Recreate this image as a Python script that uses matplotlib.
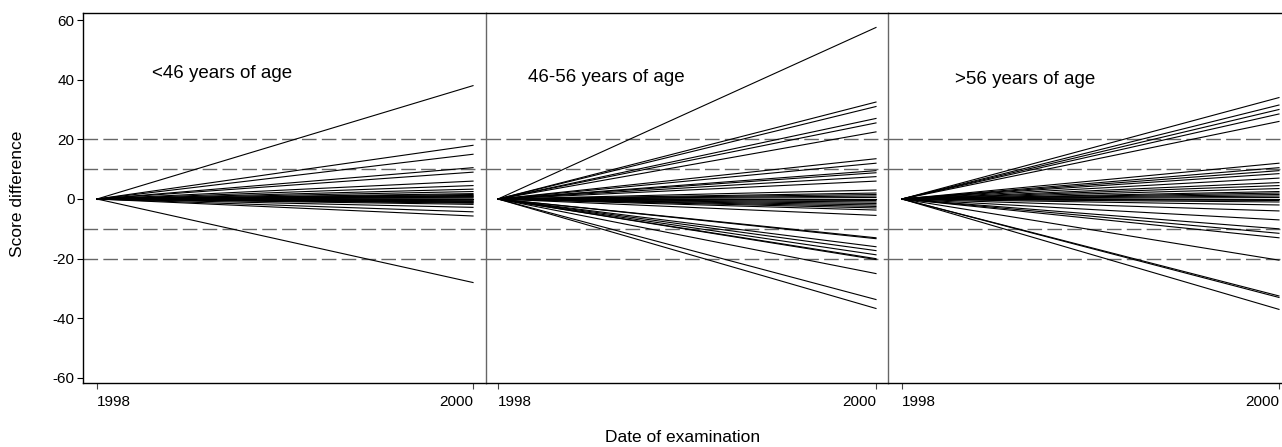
import matplotlib
matplotlib.use("Agg")
import matplotlib.pyplot as plt

plt.rcParams['font.family'] = ['Liberation Sans', 'DejaVu Sans']

# jahre / gruppen
years = [1998, 2000]
groups = ['<46 years of age', '46-56 years of age', '>56 years of age']

# score difference at 2000 (all start at 0 in 1998)
diff_young = [38, 18, 15, 10.5, 9, 6, 4.5, 3.3, 2.5, 1.8, 1.5, 1.2, 1, 0.8, 0.6,
              0.3, 0, -0.3, -0.6, -0.8, -1, -1.2, -1.4, -1.8, -2.8, -4.3, -5.7, -28]
diff_mid = [57.5, 32.5, 31, 27, 25.5, 22.5, 13.5, 12, 9.5, 8.8, 7.5, 6, 3, 2,
            1.5, 1, 0.5, 0, -0.5, -1, -1.5, -2, -2.5, -3, -3.7, -5.5, -13,
            -13.3, -16, -17.3, -18.7, -20, -20.3, -25, -33.7, -36.7]
diff_old = [34, 31.5, 30, 28.5, 26, 12, 10.5, 9.5, 8.5, 7, 5.5, 4.5, 3.5, 2.5,
            2, 1.5, 1, 0.5, 0, -0.5, -1, -2, -4, -7, -10, -11.5, -13, -20.5,
            -32.5, -33, -37]
ref_lines = [-20, -10, 10, 20]
yticks = [-60, -40, -20, 0, 20, 40, 60]

W, H = 1282, 447
fig = plt.figure(figsize=(W / 100, H / 100), dpi=100)

# pixel boxes (left, right) and x-limits per panel
boxes = [(83, 486), (486, 888), (888, 1282)]
xlims = [(1997.9255, 2000.069), (1997.9365, 2000.0635), (1997.926, 2000.016)]
label_pos = [(1998.29, 42), (1998.16, 40.6), (1998.28, 40)]
data = [diff_young, diff_mid, diff_old]

bottom, top = 383, 13
for i, ((l, r), xl, vals, name, (tx, ty)) in enumerate(zip(boxes, xlims, data, groups, label_pos)):
    ax = fig.add_axes([l / W, (H - bottom) / H, (r - l) / W, (bottom - top) / H])
    for v in ref_lines:
        ax.axhline(v, color='#666666', lw=1.0, ls=(0, (10.5, 3.8)), zorder=1)
    for v in vals:
        ax.plot(years, [0, v], color='black', lw=0.8, zorder=2)
    ax.set_xlim(*xl)
    ax.set_ylim(-61.68, 62.35)
    ax.text(tx, ty, name, fontsize=13.5, va='center', ha='left')

    ax.spines['right'].set_visible(False)
    ax.spines['top'].set_color('black')
    ax.spines['bottom'].set_color('black')
    ax.spines['top'].set_linewidth(1.0)
    ax.spines['bottom'].set_linewidth(1.0)
    ax.spines['left'].set_linewidth(1.0)
    if i == 0:
        ax.spines['left'].set_color('black')
        ax.set_yticks(yticks)
        ax.set_yticklabels([str(t) for t in yticks])
        ax.tick_params(axis='y', direction='out', length=4, pad=2,
                       labelsize=11, color='black')
    else:
        ax.spines['left'].set_color('#666666')
        ax.set_yticks([])

    ax.set_xticks(years)
    ax.set_xticklabels(['1998', '2000'])
    ax.tick_params(axis='x', direction='out', length=4, pad=5,
                   labelsize=11, color='#444444')
    lbls = ax.get_xticklabels()
    lbls[0].set_horizontalalignment('left')
    lbls[1].set_horizontalalignment('right')

fig.text(18 / W, 1 - 194 / H, 'Score difference', rotation=90,
         fontsize=12.5, ha='center', va='center')
fig.text(683 / W, 1 - 437 / H, 'Date of examination',
         fontsize=12.5, ha='center', va='center')

fig.savefig('out.png', dpi=100)
